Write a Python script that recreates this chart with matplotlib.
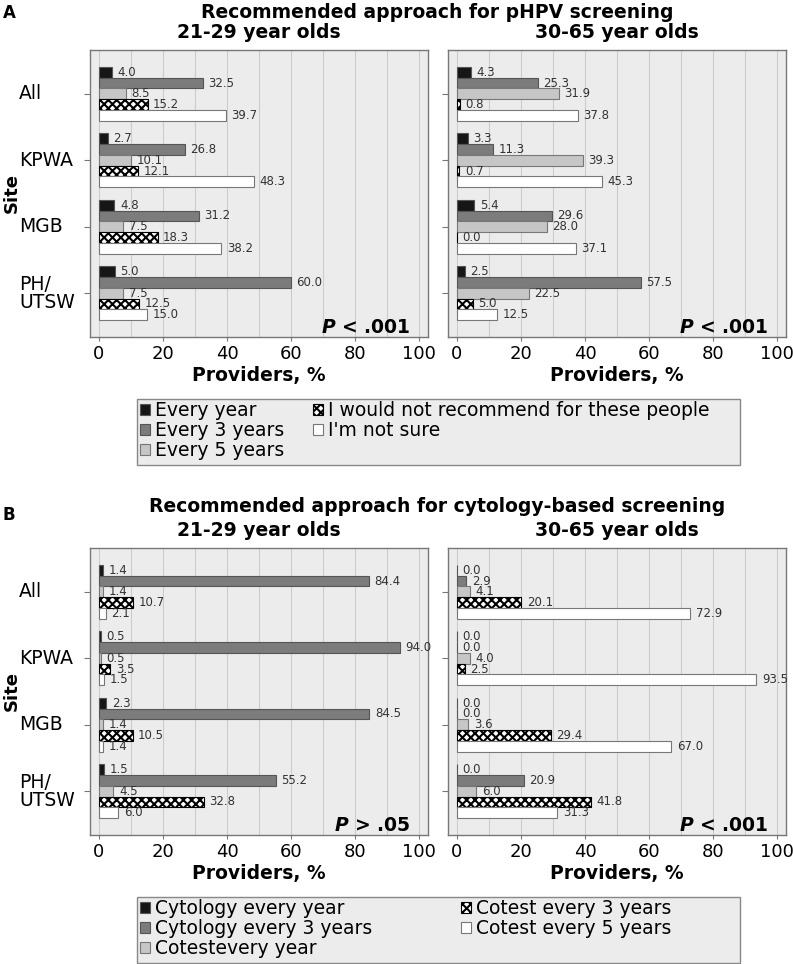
import matplotlib
matplotlib.use('Agg')
import matplotlib.pyplot as plt
import matplotlib.transforms as mtransforms
from matplotlib.patches import Patch, Rectangle
import numpy as np

matplotlib.rcParams['font.family'] = 'DejaVu Sans'
matplotlib.rcParams['hatch.linewidth'] = 1.5
matplotlib.rcParams['mathtext.fontset'] = 'dejavusans'

W, H = 793, 964
DPI = 100

sites = ['All', 'KPWA', 'MGB', 'PH/\nUTSW']

# rows = answer category, columns = site (All, KPWA, MGB, PH/UTSW)
hpv_21_29 = [
    [4.0, 2.7, 4.8, 5.0],
    [32.5, 26.8, 31.2, 60.0],
    [8.5, 10.1, 7.5, 7.5],
    [15.2, 12.1, 18.3, 12.5],
    [39.7, 48.3, 38.2, 15.0],
]
hpv_30_65 = [
    [4.3, 3.3, 5.4, 2.5],
    [25.3, 11.3, 29.6, 57.5],
    [31.9, 39.3, 28.0, 22.5],
    [0.8, 0.7, 0.0, 5.0],
    [37.8, 45.3, 37.1, 12.5],
]
cyto_21_29 = [
    [1.4, 0.5, 2.3, 1.5],
    [84.4, 94.0, 84.5, 55.2],
    [1.4, 0.5, 1.4, 4.5],
    [10.7, 3.5, 10.5, 32.8],
    [2.1, 1.5, 1.4, 6.0],
]
cyto_30_65 = [
    [0.0, 0.0, 0.0, 0.0],
    [2.9, 0.0, 0.0, 20.9],
    [4.1, 4.0, 3.6, 6.0],
    [20.1, 2.5, 29.4, 41.8],
    [72.9, 93.5, 67.0, 31.3],
]

hpv_labels = ['Every year', 'Every 3 years', 'Every 5 years',
              'I would not recommend for these people', "I'm not sure"]
cyto_labels = ['Cytology every year', 'Cytology every 3 years', 'Cotestevery year',
               'Cotest every 3 years', 'Cotest every 5 years']

p_values = ['< .001', '< .001', '> .05', '< .001']

# bar styles per category
styles = [
    dict(facecolor='#161616', edgecolor='#555555', hatch=None),
    dict(facecolor='#7c7c7c', edgecolor='#555555', hatch=None),
    dict(facecolor='#c6c6c6', edgecolor='#777777', hatch=None),
    dict(facecolor='white', edgecolor='black', hatch='xxxx'),
    dict(facecolor='white', edgecolor='#777777', hatch=None),
]

fig = plt.figure(figsize=(W / DPI, H / DPI), dpi=DPI)
fig.patch.set_facecolor('white')


def px_axes(x0, y0, x1, y1):
    return fig.add_axes([x0 / W, 1 - y1 / H, (x1 - x0) / W, (y1 - y0) / H])


def draw_panel(ax, data, pval, show_sites):
    bar_h = 0.162
    ypos = np.arange(len(sites))
    for j, values in enumerate(data):
        st = styles[j]
        bars = ax.barh(ypos + (j - 2) * bar_h, values, height=bar_h,
                       facecolor=st['facecolor'], edgecolor=st['edgecolor'],
                       hatch=st['hatch'], linewidth=0.8, zorder=3)
        ax.bar_label(bars, fmt='%.1f', padding=4, fontsize=8.5, color='#333333',
                     clip_on=False)
    ax.set_xlim(-2.8, 102.8)
    ax.set_ylim(3.66, -0.66)
    ax.set_facecolor('#ececec')
    ax.set_xticks(range(0, 101, 20))
    ax.set_xticks(range(10, 100, 20), minor=True)
    ax.tick_params(axis='x', which='major', labelsize=13, length=3, color='#777777', pad=3)
    ax.tick_params(axis='x', which='minor', length=0)
    ax.set_yticks(ypos)
    ax.set_yticklabels([])
    ax.tick_params(axis='y', length=4, color='#777777')
    ax.grid(axis='x', which='both', color='#cccccc', linewidth=0.8)
    ax.set_axisbelow(True)
    for sp in ax.spines.values():
        sp.set_color('#777777')
        sp.set_linewidth(1)
    ax.set_xlabel('Providers, %', fontsize=13.5, fontweight='bold', labelpad=2)
    ax.text(0.947, 0.014, r'$\mathbfit{P}$ ' + pval, transform=ax.transAxes,
            ha='right', va='baseline', fontsize=13.5, fontweight='bold')
    if show_sites:
        tr = mtransforms.blended_transform_factory(fig.transFigure, ax.transData)
        for i, s in enumerate(sites):
            ax.text(19 / W, i, s, transform=tr, ha='left', va='center',
                    fontsize=13.5, linespacing=0.95)


def draw_legend(labels, box_top, col2_x):
    fig.add_artist(Rectangle((137 / W, 1 - (box_top + 66) / H), 603 / W, 66 / H,
                             transform=fig.transFigure, facecolor='#ececec',
                             edgecolor='#888888', linewidth=1, zorder=0))
    handles = [Patch(facecolor=st['facecolor'], edgecolor=st['edgecolor'],
                     hatch=st['hatch'], linewidth=0.8) for st in styles]
    kw = dict(loc='upper left', frameon=False, borderpad=0, borderaxespad=0,
              handlelength=0.55, handleheight=0.55, handletextpad=0.25,
              labelspacing=0.05, fontsize=13.5)
    fig.legend(handles[:3], labels[:3], bbox_to_anchor=(140 / W, 1 - (box_top + 2) / H), **kw)
    fig.legend(handles[3:], labels[3:], bbox_to_anchor=(col2_x / W, 1 - (box_top + 2) / H), **kw)


panels = [
    ((90, 50, 428, 337), hpv_21_29, p_values[0], True),
    ((448, 50, 786, 337), hpv_30_65, p_values[1], False),
    ((90, 548, 428, 835), cyto_21_29, p_values[2], True),
    ((448, 548, 786, 835), cyto_30_65, p_values[3], False),
]
for box, data, pval, show in panels:
    ax = px_axes(*box)
    draw_panel(ax, data, pval, show)

# titles
fig.text(437 / W, 1 - 13 / H, 'Recommended approach for pHPV screening',
         ha='center', va='center', fontsize=13.5, fontweight='bold')
fig.text(437 / W, 1 - 506 / H, 'Recommended approach for cytology-based screening',
         ha='center', va='center', fontsize=13.5, fontweight='bold')
for yc in (32, 531):
    fig.text(259 / W, 1 - yc / H, '21-29 year olds', ha='center', va='center',
             fontsize=13.5, fontweight='bold')
    fig.text(617 / W, 1 - yc / H, '30-65 year olds', ha='center', va='center',
             fontsize=13.5, fontweight='bold')

fig.text(3 / W, 1 - 13 / H, 'A', ha='left', va='center', fontsize=12, fontweight='bold')
fig.text(3 / W, 1 - 515 / H, 'B', ha='left', va='center', fontsize=12, fontweight='bold')

fig.text(12 / W, 1 - 193 / H, 'Site', rotation=90, ha='center', va='center',
         fontsize=13, fontweight='bold')
fig.text(12 / W, 1 - 691 / H, 'Site', rotation=90, ha='center', va='center',
         fontsize=13, fontweight='bold')

draw_legend(hpv_labels, 399, 313)
draw_legend(cyto_labels, 897, 461)

plt.savefig('out.png', dpi=DPI)
